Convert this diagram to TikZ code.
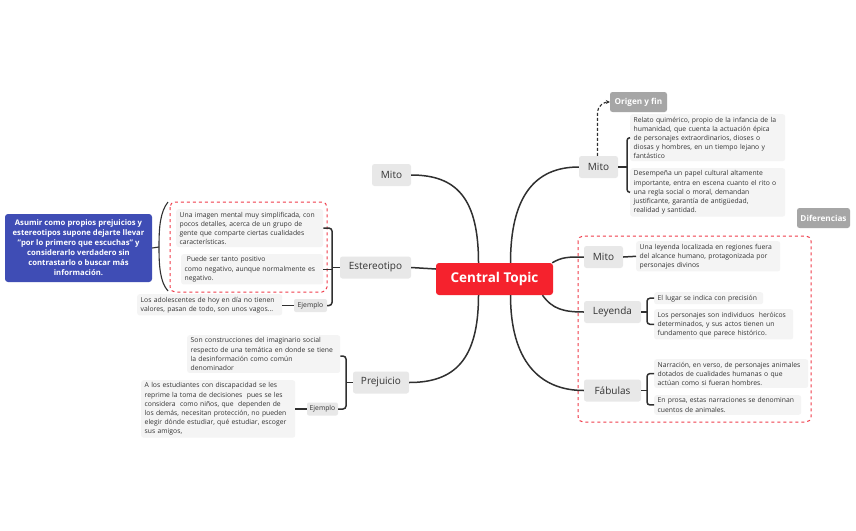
\documentclass[tikz,border=0pt]{standalone}
\usepackage{fontspec}
\setmainfont{Open Sans}
\usetikzlibrary{arrows.meta,calc}
\definecolor{linec}{HTML}{303030}
\definecolor{subg}{HTML}{E8E8E8}
\definecolor{txtg}{HTML}{F4F4F4}
\definecolor{darkg}{HTML}{A6A6A6}
\definecolor{redc}{HTML}{F5222D}
\definecolor{bluec}{HTML}{3F4DB5}
\definecolor{textc}{HTML}{333333}
\definecolor{dashred}{HTML}{F03C4A}
\begin{document}
\begin{tikzpicture}[x=1pt,y=-1pt,
 conn/.style={draw=linec,line width=1.5pt},
 brk/.style={draw=linec,line width=1.5pt,rounded corners=3pt},
 sub/.style={fill=subg,rounded corners=2.5pt,text=textc,font=\fontsize{10}{12}\selectfont,minimum height=22pt,inner sep=0pt},
 txt/.style={fill=txtg,rounded corners=2.5pt,text=textc,font=\fontsize{6.8}{9.1}\selectfont,align=left,anchor=north west,inner xsep=3.5pt,inner ysep=2.6pt},
 lab/.style={fill=subg,rounded corners=2pt,text=textc,font=\fontsize{6.8}{8}\selectfont,inner sep=0pt,minimum height=13pt},
 dark/.style={fill=darkg,rounded corners=2.5pt,text=white,font=\bfseries\fontsize{8.2}{9}\selectfont,inner sep=0pt,minimum height=20pt},
 bound/.style={draw=dashred,line width=1pt,dashed,rounded corners=5pt}
 ]
\useasboundingbox (0,0) rectangle (856,530);
\fill[white] (0,0) rectangle (856,530);

% boundaries
\draw[bound] (170,202) rectangle (327,292);
\draw[bound] (578,236) rectangle (811,422);

% central
\node[fill=redc,rounded corners=3pt,text=white,font=\bfseries\fontsize{13.5}{15}\selectfont,minimum width=117pt,minimum height=32pt,inner sep=0pt] (ct) at (494.5,279) {Central Topic};

% main topics
\node[sub,minimum width=39pt] (mitoL) at (391.5,175) {Mito};
\node[sub,minimum width=71pt] (est) at (375.5,267.5) {Estereotipo};
\node[sub,minimum width=56pt] (prej) at (381,382.5) {Prejuicio};
\node[sub,minimum width=39pt] (mitoR) at (598.5,167) {Mito};
\node[sub,minimum width=39pt] (mito2) at (603.5,257) {Mito};
\node[sub,minimum width=57pt] (ley) at (612.5,312) {Leyenda};
\node[sub,minimum width=57pt] (fab) at (612.5,390.5) {Fábulas};

\node[dark,minimum width=57pt] (orig) at (638.5,102) {Origen y fin};
\node[dark,minimum width=53pt] (dif) at (823.5,218) {Diferencias};

% blue summary
\node[fill=bluec,rounded corners=3pt,text=white,font=\bfseries\fontsize{7.7}{10}\selectfont,align=center,minimum width=147pt,minimum height=68pt,inner sep=0pt] (blue) at (78.5,248) {Asumir como propios prejuicios y\\estereotipos supone dejarte llevar\\"por lo primero que escuchas" y\\considerarlo verdadero sin\\contrastarlo o buscar más\\información.};

% text nodes right
\node[txt,text width=148pt] (mc1) at (630,114) {Relato quimérico, propio de la infancia de la\\humanidad, que cuenta la actuación épica\\de personajes extraordinarios, dioses o\\diosas y hombres, en un tiempo lejano y\\fantástico};
\node[txt,text width=148pt] (mc2) at (630,168) {Desempeña un papel cultural altamente\\importante, entra en escena cuanto el rito o\\una regla social o moral, demandan\\justificante, garantía de antigüedad,\\realidad y santidad.};
\node[txt,text width=137pt] (m2c) at (636,241) {Una leyenda localizada en regiones fuera\\del alcance humano, protagonizada por\\personajes divinos};
\node[txt,text width=102pt] (lc1) at (654,292) {El lugar se indica con precisión};
\node[txt,text width=132pt] (lc2) at (654,309) {Los personajes son individuos\ \ heróicos\\determinados, y sus actos tienen un\\fundamento que parece histórico.};
\node[txt,text width=147pt] (fc1) at (654,359) {Narración, en verso, de personajes animales\\dotados de cualidades humanas o que\\actúan como si fueran hombres.};
\node[txt,text width=140pt] (fc2) at (654,395) {En prosa, estas narraciones se denominan\\cuentos de animales.};

% text nodes left
\node[txt,text width=140pt] (ec1) at (176,209) {Una imagen mental muy simplificada, con\\pocos detalles, acerca de un grupo de\\gente que comparte ciertas cualidades\\características.};
\node[txt,text width=135pt] (ec2) at (181,254) {\ Puede ser tanto positivo\\como negativo, aunque normalmente es\\negativo.};
\node[lab,minimum width=33pt] (eex) at (310.5,305.5) {Ejemplo};
\node[txt,text width=138pt] (eexc) at (137,294) {Los adolescentes de hoy en día no tienen\\valores, pasan de todo, son unos vagos...};
\node[txt,text width=146pt] (pc1) at (187,335) {Son construcciones del imaginario social\\respecto de una temática en donde se tiene\\la desinformación como común\\denominador};
\node[lab,minimum width=31pt] (pex) at (322.5,409) {Ejemplo};
\node[txt,text width=147pt] (pexc) at (141,380) {A los estudiantes con discapacidad se les\\reprime la toma de decisiones\ \ pues se les\\considera\ \ como niños, que\ \ dependen de\\los demás, necesitan protección, no pueden\\elegir dónde estudiar, qué estudiar, escoger\\sus amigos,};

% main connectors
\draw[conn] ([xshift=-16pt]ct.north) .. controls +(0,-65) and +(45,0) .. (mitoL.east);
\draw[conn] (est.east) -- ([yshift=10pt]ct.west);
\draw[conn] ([xshift=-16pt]ct.south) .. controls +(0,65) and +(45,0) .. (prej.east);
\draw[conn] ([xshift=16pt]ct.north) .. controls +(0,-65) and +(-45,0) .. (mitoR.west);
\draw[conn] ([xshift=-1pt]ct.north east) .. controls +(10,-6) and +(-15,0) .. (mito2.west);
\draw[conn] ([xshift=48pt]ct.south) .. controls +(10,14) and +(-20,0) .. (ley.west);
\draw[conn] ([xshift=16pt]ct.south) .. controls +(0,65) and +(-45,0) .. (fab.west);

% dashed arrow
\draw[draw=linec,line width=1.1pt,dash pattern=on 3pt off 2pt,-{Stealth[length=4pt,width=4pt]}] ([xshift=-1pt]mitoR.north) -- ++(0,-44) .. controls +(0,-6) and +(-5,0) .. (orig.west);

% brackets right
\coordinate (mb) at (627,167);
\draw[conn] (mitoR.east) -- (mb);
\draw[brk] (mc1.west) -| (mb) |- (mc2.west);
\draw[conn] (mito2.east) -- (m2c.west);
\coordinate (lb) at (647,312);
\draw[conn] (ley.east) -- (lb);
\draw[brk] (lc1.west) -| (lb) |- (lc2.west);
\coordinate (fb) at (647,390.5);
\draw[conn] (fab.east) -- (fb);
\draw[brk] (fc1.west) -| (fb) |- (fc2.west);

% brackets left
\coordinate (eb) at (332,267.5);
\draw[conn] (est.west) -- (eb);
\draw[brk] (ec1.east) -| (eb) |- (eex.east);
\draw[conn] (ec2.east) -- (ec2.east -| eb);
\draw[conn] (eex.west) -- (eex.west -| eexc.east);
\coordinate (pb) at (346,382.5);
\draw[conn] (prej.west) -- (pb);
\draw[brk] ([yshift=-2pt]pc1.east) -| (pb) |- (pex.east);
\draw[conn] (pex.west) -- (pex.west -| pexc.east);

% summary brace
\coordinate (sb) at (159,247);
\draw[draw=linec,line width=1.1pt] (blue.east) -- (sb);
\draw[draw=linec,line width=1.1pt] (168,202) .. controls (160,212) and (159,228) .. (sb) .. controls (159,266) and (160,282) .. (168,291);
\end{tikzpicture}
\end{document}
